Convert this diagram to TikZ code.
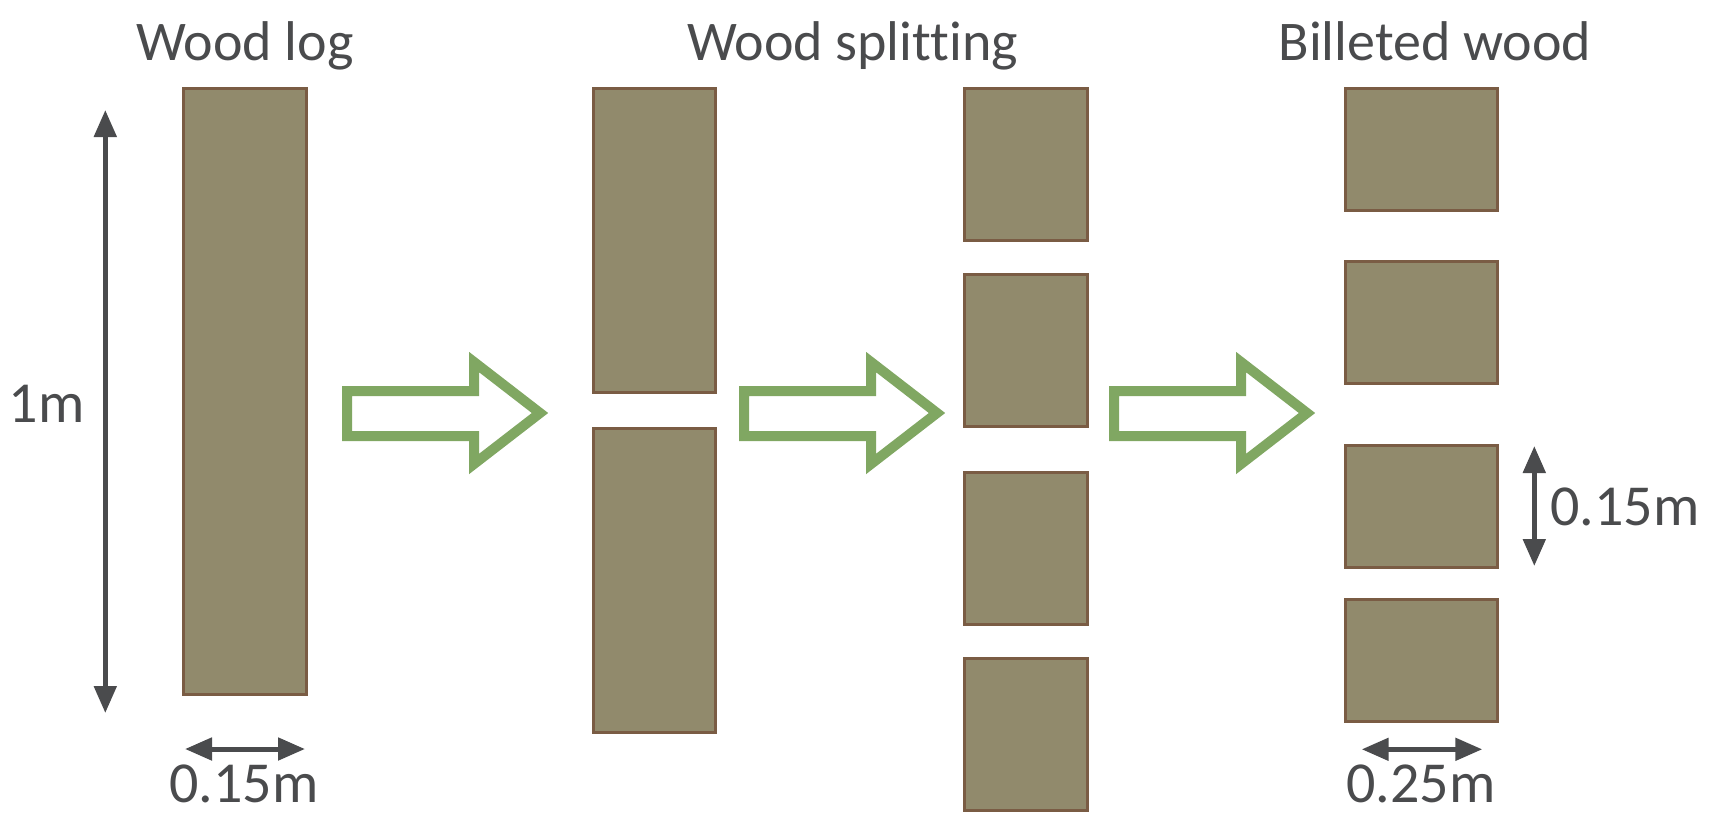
\documentclass[tikz,border=0pt]{standalone}
\usepackage{fontspec}
\setmainfont{Carlito}[Ligatures={NoCommon,NoContextual}]
\usetikzlibrary{arrows.meta}
\definecolor{woodfill}{RGB}{145,138,108}
\definecolor{woodline}{RGB}{122,92,68}
\definecolor{flowgreen}{RGB}{128,167,98}
\definecolor{dimgray}{RGB}{74,75,77}
\definecolor{txtgray}{RGB}{74,75,77}
\begin{document}
\begin{tikzpicture}[x=1pt,y=-1pt,
  wood/.style={draw=woodline, fill=woodfill, line width=3pt, inner sep=0pt, rectangle},
  dimarrow/.style={draw=dimgray, line width=5pt, {Triangle[length=27pt,width=22pt]}-{Triangle[length=27pt,width=22pt]}},
  lbl/.style={text=txtgray, font=\fontsize{58}{60}\selectfont, anchor=base, inner sep=0pt},
  ttl/.style={lbl, font=\fontsize{56}{60}\selectfont},
  flow/.style={draw=flowgreen, line width=10pt, miter limit=10, fill=white}]
\useasboundingbox (0,0) rectangle (1718,812);

% titles
\node[ttl] (t1) at (245,60) {Wood log};
\node[ttl] (t2) at (852.5,60) {Wood splitting};
\node[ttl] (t3) at (1435,60) {Billeted wood};

% wood log
\node[wood, minimum width=123pt, minimum height=605.6pt] (log) at (244.5,391.5) {};

% split in two
\node[wood, minimum width=122pt, minimum height=304pt] (sa) at (654,240.5) {};
\node[wood, minimum width=122pt, minimum height=304pt] (sb) at (654,580.2) {};

% split in four
\node[wood, minimum width=123pt, minimum height=152pt] (qa) at (1025.5,164.7) {};
\node[wood, minimum width=123pt, minimum height=152pt] (qb) at (1025.5,350.9) {};
\node[wood, minimum width=123pt, minimum height=152pt] (qc) at (1025.5,548.4) {};
\node[wood, minimum width=123pt, minimum height=152pt] (qd) at (1025.5,734.2) {};

% billets
\node[wood, minimum width=152pt, minimum height=122pt] (ba) at (1421.9,149.7) {};
\node[wood, minimum width=152pt, minimum height=122pt] (bb) at (1421.9,322.2) {};
\node[wood, minimum width=152pt, minimum height=122pt] (bc) at (1421.9,506.2) {};
\node[wood, minimum width=152pt, minimum height=122pt] (bd) at (1421.9,660.5) {};

% flow arrows
\foreach \dx in {0,397,767}{
  \draw[flow] (347+\dx,391) -- (474+\dx,391) -- (474+\dx,362) -- (540+\dx,413)
    -- (474+\dx,464) -- (474+\dx,436) -- (347+\dx,436) -- cycle;
}

% dimension arrows
\coordinate (v1a) at (105.3,110);
\coordinate (v1b) at (105.3,713);
\draw[dimarrow] (v1a) -- (v1b);
\coordinate (h1a) at (185,749);
\coordinate (h1b) at (305,749);
\draw[dimarrow] (h1a) -- (h1b);
\coordinate (v4a) at (1534.3,446);
\coordinate (v4b) at (1534.3,566);
\draw[dimarrow] (v4a) -- (v4b);
\coordinate (h4a) at (1361.7,749.3);
\coordinate (h4b) at (1482.3,749.3);
\draw[dimarrow] (h4a) -- (h4b);

% dimension labels
\node[lbl] (m1) at (46.5,422) {1m};
\node[lbl] (w1) at (244,802) {0.15m};
\node[lbl] (h4) at (1625,525.7) {0.15m};
\node[lbl] (w4) at (1421,802) {0.25m};
\end{tikzpicture}
\end{document}
